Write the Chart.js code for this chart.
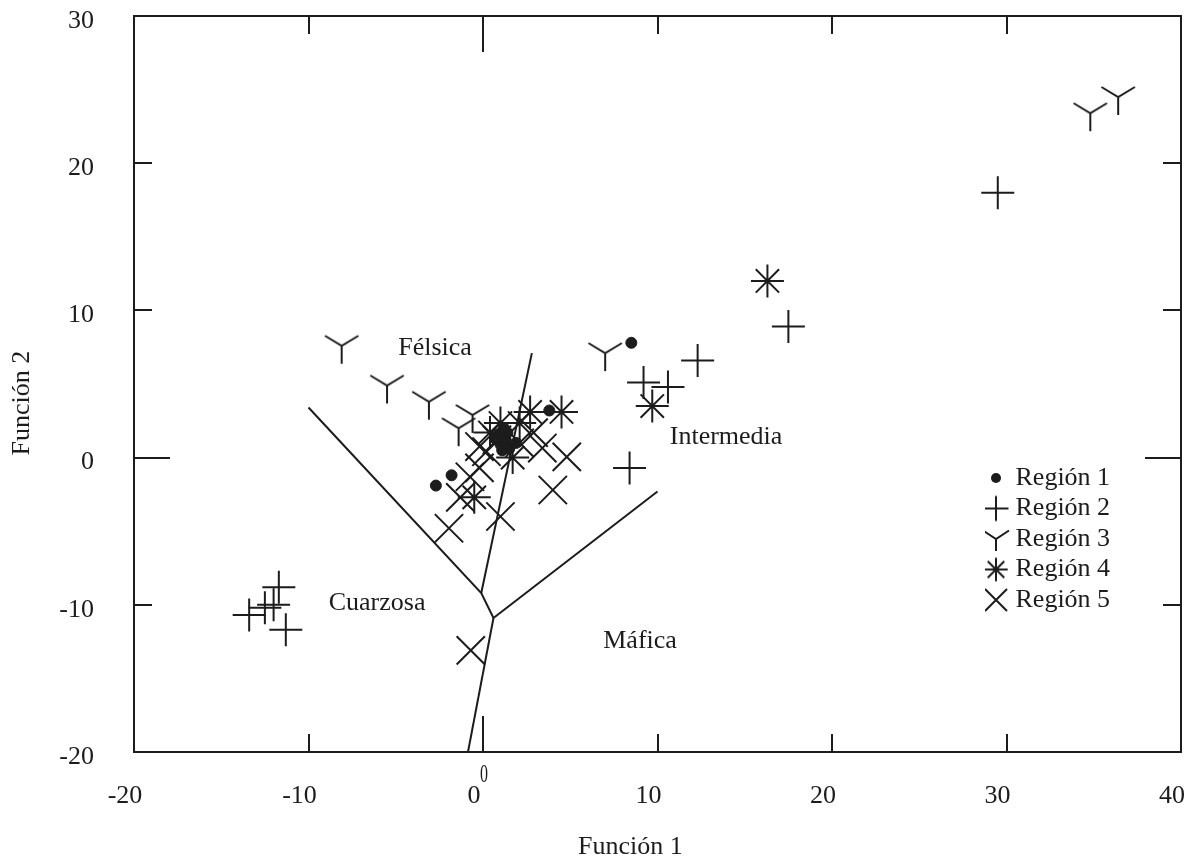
<!DOCTYPE html>
<html>
<head>
<meta charset="utf-8">
<title>Función 1 vs Función 2</title>
<script src="https://cdn.jsdelivr.net/npm/chart.js@4.4.1/dist/chart.umd.min.js"></script>
<style>
  html, body { margin: 0; padding: 0; background: #ffffff; }
  #wrap { width: 1191px; height: 860px; }
</style>
</head>
<body>
<div id="wrap"><canvas id="chart" width="1191" height="860"></canvas></div>
<script>
// Discriminant scores per sample (Función 1 on x, Función 2 on y)
const region1X = [8.5, 3.8, -1.8, -2.7, 0.9, 1.4, 1.0, 1.5, 1.3, 1.1, 0.7, 1.9, 1.2];
const region1Y = [7.8, 3.2, -1.2, -1.9, 1.6, 1.7, 0.9, 0.6, 1.2, 0.5, 1.3, 1.0, 2.0];
const region2X = [29.5, 17.5, 12.3, 9.2, 10.6, 8.4, -11.7, -12.0, -12.5, -13.4, -11.3];
const region2Y = [18.0, 8.9, 6.6, 5.1, 4.8, -0.7, -8.8, -10.0, -10.2, -10.7, -11.7];
const region3X = [34.8, 36.4, -8.1, -5.5, -3.1, -0.6, -1.4, 7.0];
const region3Y = [23.4, 24.5, 7.6, 4.9, 3.8, 2.9, 2.0, 7.1];
const region4X = [16.3, 9.7, 4.5, 2.7, 2.1, 1.0, 1.7, -0.5, 0.4];
const region4Y = [12.0, 3.5, 3.1, 3.1, 2.35, 2.35, 0.0, -2.7, 1.7];
const region5X = [-0.7, -1.95, 1.0, 4.0, 4.8, 3.4, -1.3, -0.2, 0.2, 2.9, -0.75, 2.1, 0.8, -0.2];
const region5Y = [-13.1, -4.8, -4.0, -2.2, 0.05, 0.65, -2.7, -0.7, 0.4, 1.7, -1.3, 1.0, 1.2, 0.75];

const seriesNames = ['Región 1', 'Región 2', 'Región 3', 'Región 4', 'Región 5'];

// Field boundaries of the discriminant diagram
const outerLimitX = [-10.0, -0.1, 0.6, 10.0];
const outerLimitY = [3.4, -9.2, -10.9, -2.3];
const centralLimitX = [2.8, -0.1];
const centralLimitY = [7.1, -9.2];
const lowerLimitX = [0.6, -0.86];
const lowerLimitY = [-10.9, -20];

// Field names and where they sit (data units)
const fieldNames = ['Félsica', 'Intermedia', 'Cuarzosa', 'Máfica'];
const fieldX = [-2.75, 13.93, -6.07, 9.0];
const fieldY = [7.45, 1.4, -9.88, -12.46];

// Axis ticks and titles
const xTicks = [-20, -10, 0, 10, 20, 30, 40];
const yTicks = [-20, -10, 0, 10, 20, 30];
const xTitle = 'Función 1';
const yTitle = 'Función 2';

const ink = '#1c1c1c';
const serif = "'Liberation Serif', 'Times New Roman', serif";
Chart.defaults.font.family = serif;
Chart.defaults.font.size = 26;
Chart.defaults.color = ink;

function pts(xs, ys) { return xs.map((x, i) => ({ x: x, y: ys[i] })); }

// Small canvases used as point styles (tripod "Y" marker and legend icons)
function glyph(size, paint) {
  const c = document.createElement('canvas');
  c.width = size; c.height = size;
  const g = c.getContext('2d');
  g.strokeStyle = ink; g.fillStyle = ink; g.lineWidth = 2;
  g.translate(size / 2, size / 2);
  g.beginPath();
  paint(g);
  return c;
}
const tripod = (arm, rise, stem) => g => {
  g.moveTo(-arm, -rise); g.lineTo(0, 0); g.lineTo(arm, -rise);
  g.moveTo(0, 0); g.lineTo(0, stem); g.stroke();
};
const plusShape = r => g => {
  g.moveTo(-r, 0); g.lineTo(r, 0); g.moveTo(0, -r); g.lineTo(0, r); g.stroke();
};
const xShape = r => g => {
  g.moveTo(-r, -r); g.lineTo(r, r); g.moveTo(-r, r); g.lineTo(r, -r); g.stroke();
};
const starShape = r => g => {
  const d = r * Math.SQRT1_2;
  g.moveTo(-r, 0); g.lineTo(r, 0); g.moveTo(0, -r); g.lineTo(0, r);
  g.moveTo(-d, -d); g.lineTo(d, d); g.moveTo(-d, d); g.lineTo(d, -d); g.stroke();
};
const dotShape = r => g => { g.arc(0, 0, r, 0, Math.PI * 2); g.fill(); };

const tripodMarker = glyph(46, tripod(16.7, 10, 18));
const legendIcons = [
  glyph(14, dotShape(5)),
  glyph(28, plusShape(12.5)),
  glyph(30, tripod(13, 8.5, 12)),
  glyph(28, starShape(11.7)),
  glyph(26, xShape(11))
];

function markerSet(label, data, style, radius) {
  return {
    label: label, data: data,
    pointStyle: style, pointRadius: radius, pointHoverRadius: radius,
    pointBorderColor: ink, pointBackgroundColor: ink,
    pointBorderWidth: 2, pointHoverBorderWidth: 2,
    showLine: false
  };
}
function limitSet(xs, ys) {
  return {
    label: '', data: pts(xs, ys), showLine: true, fill: false, tension: 0,
    borderColor: ink, borderWidth: 2, pointRadius: 0, pointHoverRadius: 0
  };
}

const datasets = [
  Object.assign(markerSet(seriesNames[0], pts(region1X, region1Y), 'circle', 5.5), { pointBorderWidth: 1 }),
  markerSet(seriesNames[1], pts(region2X, region2Y), 'cross', 16.5),
  markerSet(seriesNames[2], pts(region3X, region3Y), tripodMarker, 18),
  markerSet(seriesNames[3], pts(region4X, region4Y), 'star', 16.5),
  markerSet(seriesNames[4], pts(region5X, region5Y), 'crossRot', 20),
  limitSet(outerLimitX, outerLimitY),
  limitSet(centralLimitX, centralLimitY),
  limitSet(lowerLimitX, lowerLimitY)
];

// Inward tick marks on all four sides of the frame
function frameAxis(position, axis, values, extra) {
  return Object.assign({
    type: 'linear', position: position, axis: axis,
    min: values[0], max: values[values.length - 1],
    afterBuildTicks: s => { s.ticks = values.map(v => ({ value: v })); },
    grid: { drawOnChartArea: false, drawTicks: true, tickLength: -18, tickWidth: 2, tickColor: ink, color: ink, lineWidth: 2 },
    border: { display: true, color: ink, width: 2 },
    ticks: { display: false }
  }, extra);
}

const decor = {
  id: 'decor',
  beforeDraw(chart) {
    const { ctx, width, height, chartArea: ca } = chart;
    ctx.save();
    ctx.fillStyle = '#ffffff';
    ctx.fillRect(0, 0, width, height);
    ctx.restore();
    // legend block sits inside the plot, on the right-hand side
    const lg = chart.legend;
    if (lg) {
      lg.left = ca.right - 196;
      lg.top = ca.top + 444.5;
      lg.right = ca.right;
      lg.bottom = ca.bottom;
    }
  },
  afterDraw(chart) {
    const { ctx, chartArea: ca } = chart;
    const xs = chart.scales.x, ys = chart.scales.y;
    const x0 = Math.round(xs.getPixelForValue(0));
    const y0 = Math.round(ys.getPixelForValue(0));
    ctx.save();
    ctx.strokeStyle = ink; ctx.lineWidth = 2;
    ctx.beginPath();
    ctx.moveTo(x0, ca.top); ctx.lineTo(x0, ca.top + 36);
    ctx.moveTo(x0, ca.bottom); ctx.lineTo(x0, ca.bottom - 36);
    ctx.moveTo(ca.left, y0); ctx.lineTo(ca.left + 36, y0);
    ctx.moveTo(ca.right, y0); ctx.lineTo(ca.right - 36, y0);
    ctx.stroke();

    ctx.fillStyle = ink;
    ctx.textAlign = 'center';
    ctx.textBaseline = 'middle';
    ctx.font = '26px ' + serif;
    fieldNames.forEach((name, i) => {
      ctx.fillText(name, xs.getPixelForValue(fieldX[i]), ys.getPixelForValue(fieldY[i]));
    });

    // axis titles
    ctx.fillText(xTitle, ca.left + (ca.right - ca.left) * 0.474, chart.height - 13);
    ctx.save();
    ctx.translate(22, ca.top + (ca.bottom - ca.top) * 0.526);
    ctx.rotate(-Math.PI / 2);
    ctx.fillText(yTitle, 0, 0);
    ctx.restore();

    // small condensed zero under the origin tick
    ctx.save();
    ctx.translate(x0 + 1, ca.bottom + 23);
    ctx.scale(0.64, 1);
    ctx.font = '25px ' + serif;
    ctx.fillText('0', 0, 0);
    ctx.restore();
    ctx.restore();
  }
};

new Chart(document.getElementById('chart'), {
  type: 'scatter',
  data: { datasets: datasets },
  plugins: [decor],
  options: {
    responsive: false,
    devicePixelRatio: 1,
    animation: false,
    events: [],
    layout: { autoPadding: false, padding: { left: 0, top: 16, right: 10, bottom: 0 } },
    scales: {
      x: frameAxis('bottom', 'x', xTicks, {
        ticks: { display: true, padding: 47, labelOffset: -9, color: ink, font: { size: 26 }, autoSkip: false, maxRotation: 0 },
        afterFit: s => { s.height = 108; s.paddingLeft = 0; s.paddingRight = 0; }
      }),
      y: frameAxis('left', 'y', yTicks, {
        ticks: { display: true, padding: 58, labelOffset: 5, color: ink, font: { size: 26 }, autoSkip: false },
        afterFit: s => { s.width = 134; s.paddingTop = 0; s.paddingBottom = 0; }
      }),
      x2: frameAxis('top', 'x', xTicks, {
        afterFit: s => { s.height = 0; s.paddingLeft = 0; s.paddingRight = 0; }
      }),
      y2: frameAxis('right', 'y', yTicks, {
        afterFit: s => { s.width = 0; s.paddingTop = 0; s.paddingBottom = 0; }
      })
    },
    plugins: {
      tooltip: { enabled: false },
      legend: {
        display: true,
        position: 'chartArea',
        align: 'start',
        labels: {
          usePointStyle: true,
          boxWidth: 13,
          boxHeight: 13,
          padding: 4.5,
          color: ink,
          font: { size: 26, family: serif },
          generateLabels: () => seriesNames.map((name, i) => ({
            text: name, pointStyle: legendIcons[i], fillStyle: ink, strokeStyle: ink,
            lineWidth: 0, hidden: false, datasetIndex: i, fontColor: ink
          }))
        }
      }
    }
  }
});
</script>
</body>
</html>
